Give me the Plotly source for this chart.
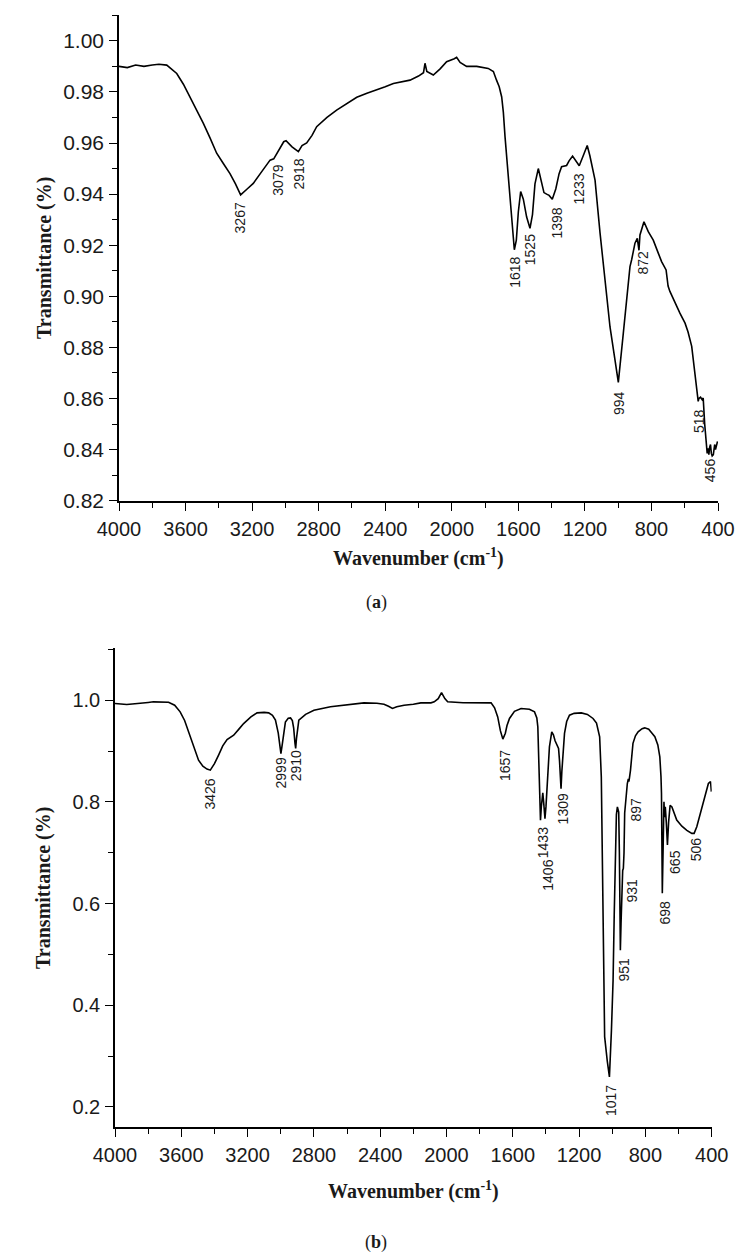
import plotly.graph_objects as go

# ---------------- (a) spectrum ----------------
wn_a = [4000, 3950, 3900, 3850, 3800, 3760, 3713, 3683, 3653, 3613, 3573, 3533, 3493, 3453, 3413,
        3373, 3333, 3300, 3269, 3230, 3193, 3140, 3092, 3070, 3040, 3010, 2996, 2960, 2922, 2900,
        2872, 2840, 2812, 2750, 2692, 2630, 2571, 2510, 2451, 2400, 2351, 2300, 2251, 2200, 2170,
        2161, 2150, 2111, 2070, 2031, 2000, 1985, 1971, 1950, 1911, 1850, 1781, 1750, 1731, 1715,
        1700, 1690, 1680, 1665, 1650, 1635, 1624, 1612, 1600, 1586, 1570, 1550, 1530, 1515, 1500,
        1480, 1465, 1446, 1430, 1415, 1396, 1375, 1355, 1340, 1310, 1295, 1274, 1255, 1234, 1210,
        1186, 1170, 1139, 1109, 1089, 1049, 1019, 999, 969, 949, 929, 919, 899, 885, 875, 869, 845,
        819, 789, 759, 739, 712, 700, 689, 659, 629, 598, 580, 558, 538, 525, 519, 515, 505, 495,
        489, 480, 470, 465, 459, 455, 450, 445, 440, 435, 428, 420, 415, 408, 403]
t_a = [0.990, 0.9895, 0.9905, 0.990, 0.9905, 0.9908, 0.9905, 0.989, 0.9872, 0.983, 0.978, 0.973,
       0.9677, 0.962, 0.956, 0.952, 0.948, 0.944, 0.9397, 0.942, 0.9442, 0.949, 0.9533, 0.9538,
       0.957, 0.9605, 0.9609, 0.9585, 0.9566, 0.959, 0.960, 0.963, 0.9664, 0.970, 0.9729, 0.9755,
       0.9779, 0.9795, 0.9807, 0.982, 0.9833, 0.984, 0.9846, 0.9862, 0.9875, 0.9912, 0.988, 0.9866,
       0.989, 0.9918, 0.9925, 0.993, 0.9935, 0.9915, 0.990, 0.990, 0.9892, 0.988, 0.9846, 0.982,
       0.978, 0.972, 0.9625, 0.950, 0.9364, 0.925, 0.9182, 0.922, 0.933, 0.941, 0.938, 0.931,
       0.9266, 0.932, 0.944, 0.950, 0.946, 0.9406, 0.940, 0.9395, 0.938, 0.942, 0.948, 0.9507,
       0.9512, 0.953, 0.9549, 0.953, 0.9511, 0.955, 0.959, 0.955, 0.9455, 0.9248, 0.9116, 0.888,
       0.875, 0.8663, 0.8856, 0.8986, 0.9116, 0.9143, 0.9208, 0.9227, 0.918, 0.924, 0.9292, 0.9253,
       0.922, 0.9169, 0.9136, 0.9103, 0.904, 0.9019, 0.8973, 0.8934, 0.8895, 0.886, 0.8804, 0.870,
       0.861, 0.8589, 0.860, 0.8605, 0.8595, 0.8602, 0.850, 0.8395, 0.8385, 0.8405, 0.838, 0.841,
       0.842, 0.8385, 0.8375, 0.838, 0.842, 0.840, 0.8426, 0.8432]

peaks_a = [3267, 3079, 2918, 1618, 1525, 1398, 1233, 994, 872, 518, 456]
label_t_a = [0.9377, 0.9522, 0.9545, 0.9162, 0.9252, 0.9357, 0.9488, 0.8638, 0.9189, 0.8568, 0.8373]

# ---------------- (b) spectrum ----------------
wn_b = [4000, 3960, 3929, 3880, 3850, 3800, 3768, 3720, 3677, 3640, 3607, 3580, 3546, 3520, 3496,
        3470, 3445, 3425, 3400, 3375, 3350, 3324, 3300, 3284, 3250, 3224, 3180, 3143, 3100, 3073,
        3050, 3032, 3015, 3005, 2999, 2990, 2980, 2972, 2955, 2941, 2930, 2922, 2914, 2910, 2905,
        2898, 2891, 2850, 2800, 2700, 2619, 2550, 2498, 2420, 2377, 2350, 2326, 2300, 2256, 2200,
        2155, 2094, 2074, 2050, 2030, 2010, 1993, 1900, 1800, 1731, 1710, 1691, 1675, 1660, 1645,
        1635, 1620, 1590, 1550, 1500, 1469, 1455, 1449, 1443, 1436, 1433, 1428, 1422, 1419, 1414,
        1406, 1400, 1390, 1379, 1365, 1355, 1345, 1338, 1324, 1318, 1312, 1309, 1304, 1297, 1288,
        1275, 1258, 1230, 1187, 1150, 1116, 1095, 1076, 1066, 1056, 1046, 1030, 1017, 1005, 995,
        988, 981, 975, 969, 965, 961, 957, 954, 951, 947, 941, 937, 933, 929, 925, 915, 909, 903,
        900, 897, 890, 875, 860, 844, 820, 804, 780, 760, 743, 725, 713, 706, 703, 698, 692, 688,
        684, 680, 674, 667, 660, 651, 640, 611, 580, 550, 520, 506, 490, 470, 450, 420, 407, 402]
t_b = [0.9935, 0.992, 0.9915, 0.993, 0.9935, 0.9955, 0.9967, 0.9965, 0.996, 0.990, 0.977, 0.960,
       0.928, 0.905, 0.882, 0.870, 0.8645, 0.8623, 0.875, 0.892, 0.910, 0.9227, 0.928, 0.931, 0.944,
       0.954, 0.967, 0.975, 0.976, 0.975, 0.970, 0.9607, 0.935, 0.905, 0.895, 0.915, 0.945, 0.957,
       0.9645, 0.965, 0.960, 0.945, 0.915, 0.905, 0.925, 0.950, 0.9607, 0.972, 0.980, 0.987, 0.990,
       0.992, 0.9947, 0.994, 0.992, 0.988, 0.9836, 0.987, 0.990, 0.992, 0.9947, 0.9947, 0.9967,
       1.003, 1.015, 1.003, 0.9967, 0.995, 0.9945, 0.9947, 0.985, 0.967, 0.940, 0.9233, 0.935,
       0.950, 0.964, 0.978, 0.9836, 0.982, 0.977, 0.965, 0.9475, 0.880, 0.790, 0.764, 0.790, 0.815,
       0.8177, 0.800, 0.767, 0.790, 0.860, 0.908, 0.9377, 0.932, 0.920, 0.915, 0.905, 0.880, 0.840,
       0.826, 0.860, 0.905, 0.9345, 0.958, 0.9705, 0.974, 0.975, 0.972, 0.964, 0.955, 0.928, 0.849,
       0.580, 0.338, 0.290, 0.259, 0.350, 0.449, 0.580, 0.7115, 0.775, 0.790, 0.786, 0.780, 0.700,
       0.600, 0.508, 0.560, 0.646, 0.665, 0.669, 0.700, 0.778, 0.820, 0.836, 0.845, 0.840, 0.845,
       0.862, 0.915, 0.930, 0.9377, 0.944, 0.9455, 0.943, 0.935, 0.928, 0.912, 0.8885, 0.850,
       0.8165, 0.620, 0.760, 0.800, 0.770, 0.790, 0.760, 0.715, 0.760, 0.793, 0.790, 0.764, 0.752,
       0.744, 0.738, 0.738, 0.751, 0.775, 0.803, 0.836, 0.840, 0.820]

peaks_b = [3426, 2999, 2910, 1657, 1433, 1406, 1309, 1017, 951, 931, 897, 698, 665, 506]
label_t_b = [0.849, 0.892, 0.9056, 0.9056, 0.754, 0.691, 0.8196, 0.2466, 0.4984, 0.6524, 0.8131,
             0.6105, 0.7089, 0.7345]

x_ticks = [4000, 3600, 3200, 2800, 2400, 2000, 1600, 1200, 800, 400]

# ---------------- styling / layout ----------------
# the page body has an 8 px margin, so the figure is drawn 8 px in from the top-left corner
OFF = 8
W, H = 753 - OFF, 1258 - OFF
TICK_FONT = dict(family="Liberation Sans, Arial", size=20, color="#1a1a1a")
TICK_FONT_YA = dict(family="Liberation Sans, Arial", size=21, color="#1a1a1a")
TITLE_FONT = dict(family="Liberation Serif, Times New Roman", size=20, color="#1a1a1a")
LBL_FONT = dict(family="Liberation Sans, Arial", size=14, color="#1a1a1a")
shift_a = [0, 6, 0, 0, 0, 5, 0, 0, 4, 0, 1]
shift_b = [0, 0, 0, 1, 2, 3, 2, 1, 4, 8, 7, 3, 7, 2]


def fx(px):
    return (px - OFF) / W


def fy(py):
    return (H - (py - OFF)) / H


fig = go.Figure()
fig.add_trace(go.Scatter(x=wn_a, y=t_a, mode="lines", line=dict(color="black", width=1.6),
                         xaxis="x", yaxis="y", showlegend=False, hoverinfo="skip"))
fig.add_trace(go.Scatter(x=wn_b, y=t_b, mode="lines", line=dict(color="black", width=1.6),
                         xaxis="x2", yaxis="y2", showlegend=False, hoverinfo="skip"))


def xaxis(domain, anchor):
    return dict(domain=domain, anchor=anchor, range=[4000, 400], tickvals=x_ticks,
                ticktext=[str(v) for v in x_ticks], showline=True, linecolor="black", linewidth=1.6,
                ticks="outside", ticklen=8, tickwidth=1.4, tickcolor="black", showgrid=False,
                zeroline=False, tickfont=TICK_FONT, ticklabelstandoff=1, automargin=False,
                minor=dict(tick0=0, dtick=200, ticks="outside", ticklen=5, tickwidth=1.4,
                           tickcolor="black", showgrid=False))


def yaxis(domain, anchor, rng, dtick, fmt, tick0, mdtick, font):
    return dict(domain=domain, anchor=anchor, range=rng, tick0=tick0, dtick=dtick, tickformat=fmt,
                showline=True, linecolor="black", linewidth=1.6, ticks="outside", ticklen=8,
                tickwidth=1.4, tickcolor="black", showgrid=False, zeroline=False,
                tickfont=font, ticklabelstandoff=1, automargin=False,
                minor=dict(tick0=0, dtick=mdtick, ticks="outside", ticklen=5, tickwidth=1.4,
                           tickcolor="black", showgrid=False))


ann = []
for p, yv, s in zip(peaks_a, label_t_a, shift_a):
    ann.append(dict(x=p, y=yv, xref="x", yref="y", text=str(p), showarrow=False, textangle=-90,
                    xanchor="center", yanchor="top", xshift=s, font=LBL_FONT))
for p, yv, s in zip(peaks_b, label_t_b, shift_b):
    ann.append(dict(x=p, y=yv, xref="x2", yref="y2", text=str(p), showarrow=False, textangle=-90,
                    xanchor="center", yanchor="top", xshift=s, font=LBL_FONT))

for (txt, cx, cy, ang, fnt) in [
        ("<b>Transmittance (%)</b>", 45, 258, -90, TITLE_FONT),
        ("<b>Wavenumber (cm<sup>-1</sup>)</b>", 418, 558, 0, TITLE_FONT),
        ("(<b>a</b>)", 376, 602, 0, dict(family="Liberation Serif", size=18, color="#1a1a1a")),
        ("<b>Transmittance (%)</b>", 43, 888, -90, TITLE_FONT),
        ("<b>Wavenumber (cm<sup>-1</sup>)</b>", 413, 1190, 0, TITLE_FONT),
        ("(<b>b</b>)", 376, 1242, 0, dict(family="Liberation Serif", size=18, color="#1a1a1a"))]:
    ann.append(dict(x=fx(cx), y=fy(cy), xref="paper", yref="paper", text=txt, showarrow=False,
                    textangle=ang, xanchor="center", yanchor="middle", font=fnt))

fig.update_layout(
    width=W, height=H, margin=dict(l=0, r=0, t=0, b=0, autoexpand=False),
    paper_bgcolor="white", plot_bgcolor="white",
    xaxis=xaxis([fx(119), fx(718)], "y"),
    yaxis=yaxis([fy(500.7), fy(15)], "x", [0.82, 1.0101], 0.02, ".2f", 0.82, 0.01, TICK_FONT_YA),
    xaxis2=xaxis([fx(115), fx(711.7)], "y2"),
    yaxis2=yaxis([fy(1126.7), fy(648.3)], "x2", [0.161, 1.102], 0.2, ".1f", 0.2, 0.1, TICK_FONT),
    annotations=ann,
)

fig.write_html("out.html")
